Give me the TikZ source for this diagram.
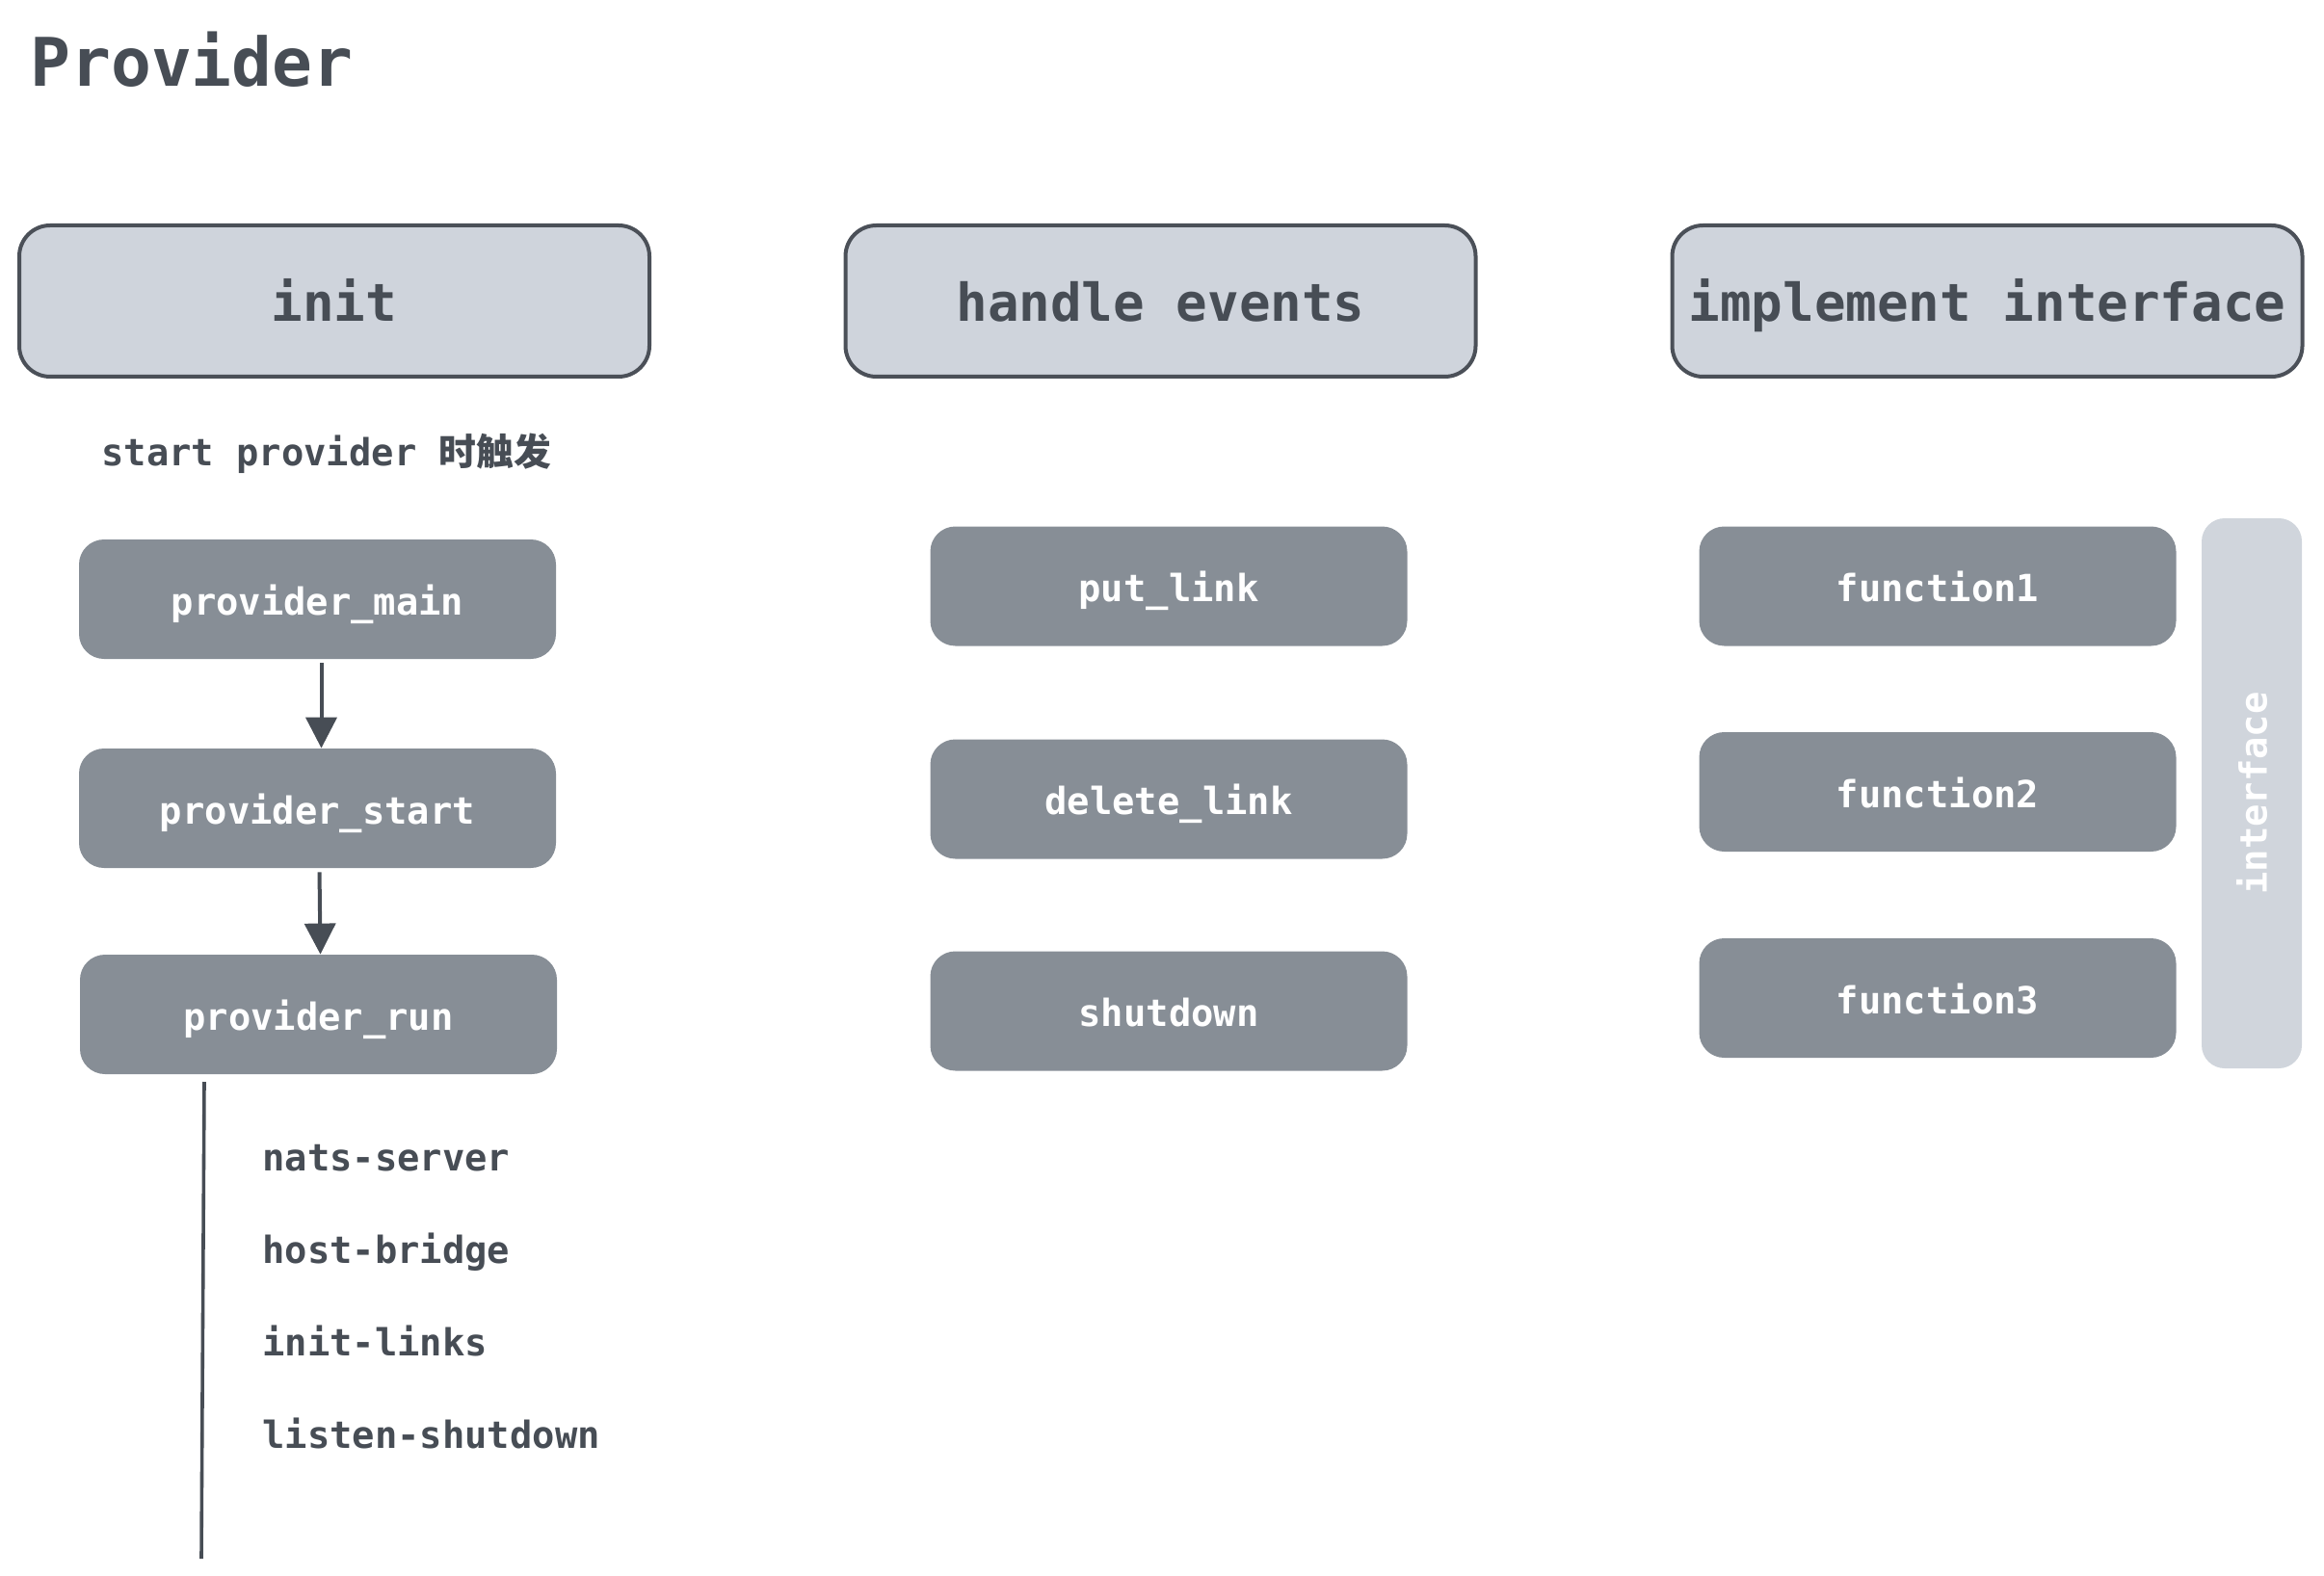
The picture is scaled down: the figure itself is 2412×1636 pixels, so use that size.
\documentclass[tikz,border=0pt]{standalone}
\usepackage{fontspec}
\usetikzlibrary{arrows.meta}
\newfontfamily\dmono{DejaVu Sans Mono}
\newfontfamily\cjk{Noto Sans CJK SC}
\definecolor{hdrfill}{HTML}{CFD4DC}
\definecolor{hdrline}{HTML}{4B5058}
\definecolor{boxfill}{HTML}{878E96}
\definecolor{txtdark}{HTML}{474D55}
\definecolor{barfill}{HTML}{D0D5DC}
\tikzset{
  hdr/.style={draw=hdrline, line width=2pt, fill=hdrfill, rounded corners=16pt,
    minimum width=327pt, minimum height=78.5pt, inner sep=0pt,
    text height=20.6pt, text depth=0pt,
    text=txtdark, font=\dmono\bfseries\fontsize{27.1pt}{32pt}\selectfont},
  fbox/.style={fill=boxfill, rounded corners=13pt, minimum width=247.5pt,
    minimum height=62pt, inner sep=0pt, text=white,
    text height=16pt, text depth=0pt,
    font=\dmono\bfseries\fontsize{19.4pt}{23pt}\selectfont},
  plain/.style={inner sep=0pt, anchor=base west, text=txtdark,
    font=\dmono\bfseries\fontsize{19.4pt}{23pt}\selectfont},
  flow/.style={draw=txtdark, line width=2pt, -{Triangle[width=16pt,length=16pt]}},
  rule/.style={draw=txtdark, line width=1.8pt}
}
\begin{document}
\begin{tikzpicture}[x=0.5pt,y=-0.5pt]
\useasboundingbox (0,0) rectangle (2412,1636);
% title
\node[inner sep=0pt, anchor=base west, text=txtdark,
  font=\dmono\bfseries\fontsize{34.8pt}{40pt}\selectfont] (title) at (31,90) {Provider};
% headers
\node[hdr] (init) at (347,312.5) {init};
\node[hdr] (handle) at (1204.5,312.5) {handle events};
\node[hdr] (impl) at (2062.5,312.5) {implement interface};
% init column
\node[plain] (trig) at (105,484) {start provider {\cjk\bfseries 时触发}};
\node[fbox] (pm) at (329.5,622) {provider\_main};
\node[fbox] (ps) at (329.5,839) {provider\_start};
\node[fbox] (pr) at (330.5,1053) {provider\_run};
\draw[flow, shorten <=2pt] ([xshift=2pt]pm.south) -- ([xshift=2pt]ps.north);
\draw[flow, shorten <=2pt] ([xshift=1pt]ps.south) -- ([xshift=1pt]pr.north);
\coordinate (vtop) at (212,1123);
\coordinate (vbot) at (209,1618);
\draw[rule] (vtop) -- (vbot);
\node[plain] (l1) at (272,1215) {nats-server};
\node[plain] (l2) at (272,1311) {host-bridge};
\node[plain] (l3) at (272,1407) {init-links};
\node[plain] (l4) at (272,1503) {listen-shutdown};
% handle events column
\node[fbox] (put) at (1213,608.5) {put\_link};
\node[fbox] (del) at (1213,829.5) {delete\_link};
\node[fbox] (shut) at (1213,1049.5) {shutdown};
% implement interface column
\node[fbox] (f1) at (2011,608.5) {function1};
\node[fbox] (f2) at (2011,822) {function2};
\node[fbox] (f3) at (2011,1036) {function3};
\node[fill=barfill, rounded corners=12pt, minimum width=52pt, minimum height=285.5pt,
  inner sep=0pt] (ibar) at (2337,823.5) {};
\node[rotate=90, inner sep=0pt, text=white,
  font=\dmono\bfseries\fontsize{19.4pt}{23pt}\selectfont] (itxt) at (ibar) {interface};
\end{tikzpicture}
\end{document}
